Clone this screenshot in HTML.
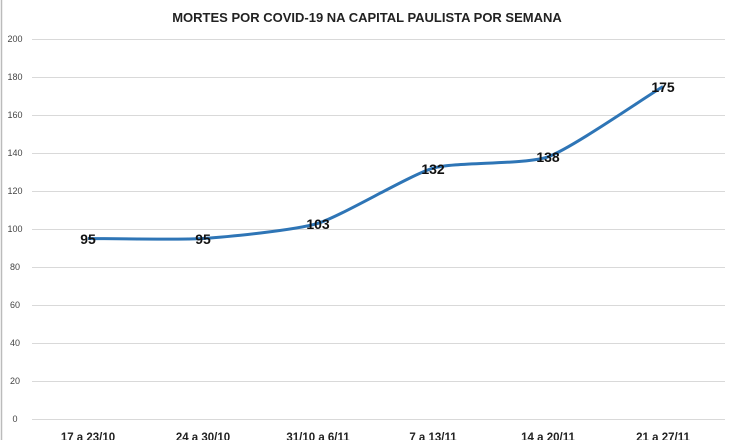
<!DOCTYPE html>
<html><head><meta charset="utf-8"><style>body{margin:0;background:#fff}</style></head><body>
<svg width="735" height="440" xmlns="http://www.w3.org/2000/svg" font-family="Liberation Sans, sans-serif">
<rect width="735" height="440" fill="#fff"/>
<line x1="1.5" y1="0" x2="1.5" y2="440" stroke="#bbb" stroke-width="1.5"/>
<text x="367" y="22" text-anchor="middle" font-size="13" font-weight="bold" fill="#222">MORTES POR COVID-19 NA CAPITAL PAULISTA POR SEMANA</text>
<g stroke="#d9d9d9" stroke-width="1">
<line x1="32" x2="725" y1="39.5" y2="39.5"/><line x1="32" x2="725" y1="77.5" y2="77.5"/>
<line x1="32" x2="725" y1="115.5" y2="115.5"/><line x1="32" x2="725" y1="153.5" y2="153.5"/>
<line x1="32" x2="725" y1="191.5" y2="191.5"/><line x1="32" x2="725" y1="229.5" y2="229.5"/>
<line x1="32" x2="725" y1="267.5" y2="267.5"/><line x1="32" x2="725" y1="305.5" y2="305.5"/>
<line x1="32" x2="725" y1="343.5" y2="343.5"/><line x1="32" x2="725" y1="381.5" y2="381.5"/>
<line x1="32" x2="725" y1="419.5" y2="419.5"/>
</g>
<g font-size="9" fill="#444" text-anchor="middle">
<text x="15" y="42">200</text><text x="15" y="80">180</text><text x="15" y="118">160</text>
<text x="15" y="156">140</text><text x="15" y="194">120</text><text x="15" y="232">100</text>
<text x="15" y="270">80</text><text x="15" y="308">60</text><text x="15" y="346">40</text>
<text x="15" y="384">20</text><text x="15" y="422">0</text>
</g>
<path d="M88,238.5 C99.5,238.5 180,240 203,238.5 C226,237 295,230.3 318,223.3 C341,216.3 410,174.9 433,168.2 C456,161.6 525,165 548,156.8 C571,148.6 640,100.6 663,86.5" fill="none" stroke="#2e75b6" stroke-width="3"/>
<g font-size="14" font-weight="bold" fill="#111" text-anchor="middle">
<text x="88" y="244">95</text><text x="203" y="244">95</text><text x="318" y="229">103</text>
<text x="433" y="174">132</text><text x="548" y="162">138</text><text x="663" y="92">175</text>
</g>
<g font-size="11.5" font-weight="bold" fill="#222" text-anchor="middle">
<text x="88" y="441">17 a 23/10</text><text x="203" y="441">24 a 30/10</text><text x="318" y="441">31/10 a 6/11</text>
<text x="433" y="441">7 a 13/11</text><text x="548" y="441">14 a 20/11</text><text x="663" y="441">21 a 27/11</text>
</g>
</svg>
</body></html>
